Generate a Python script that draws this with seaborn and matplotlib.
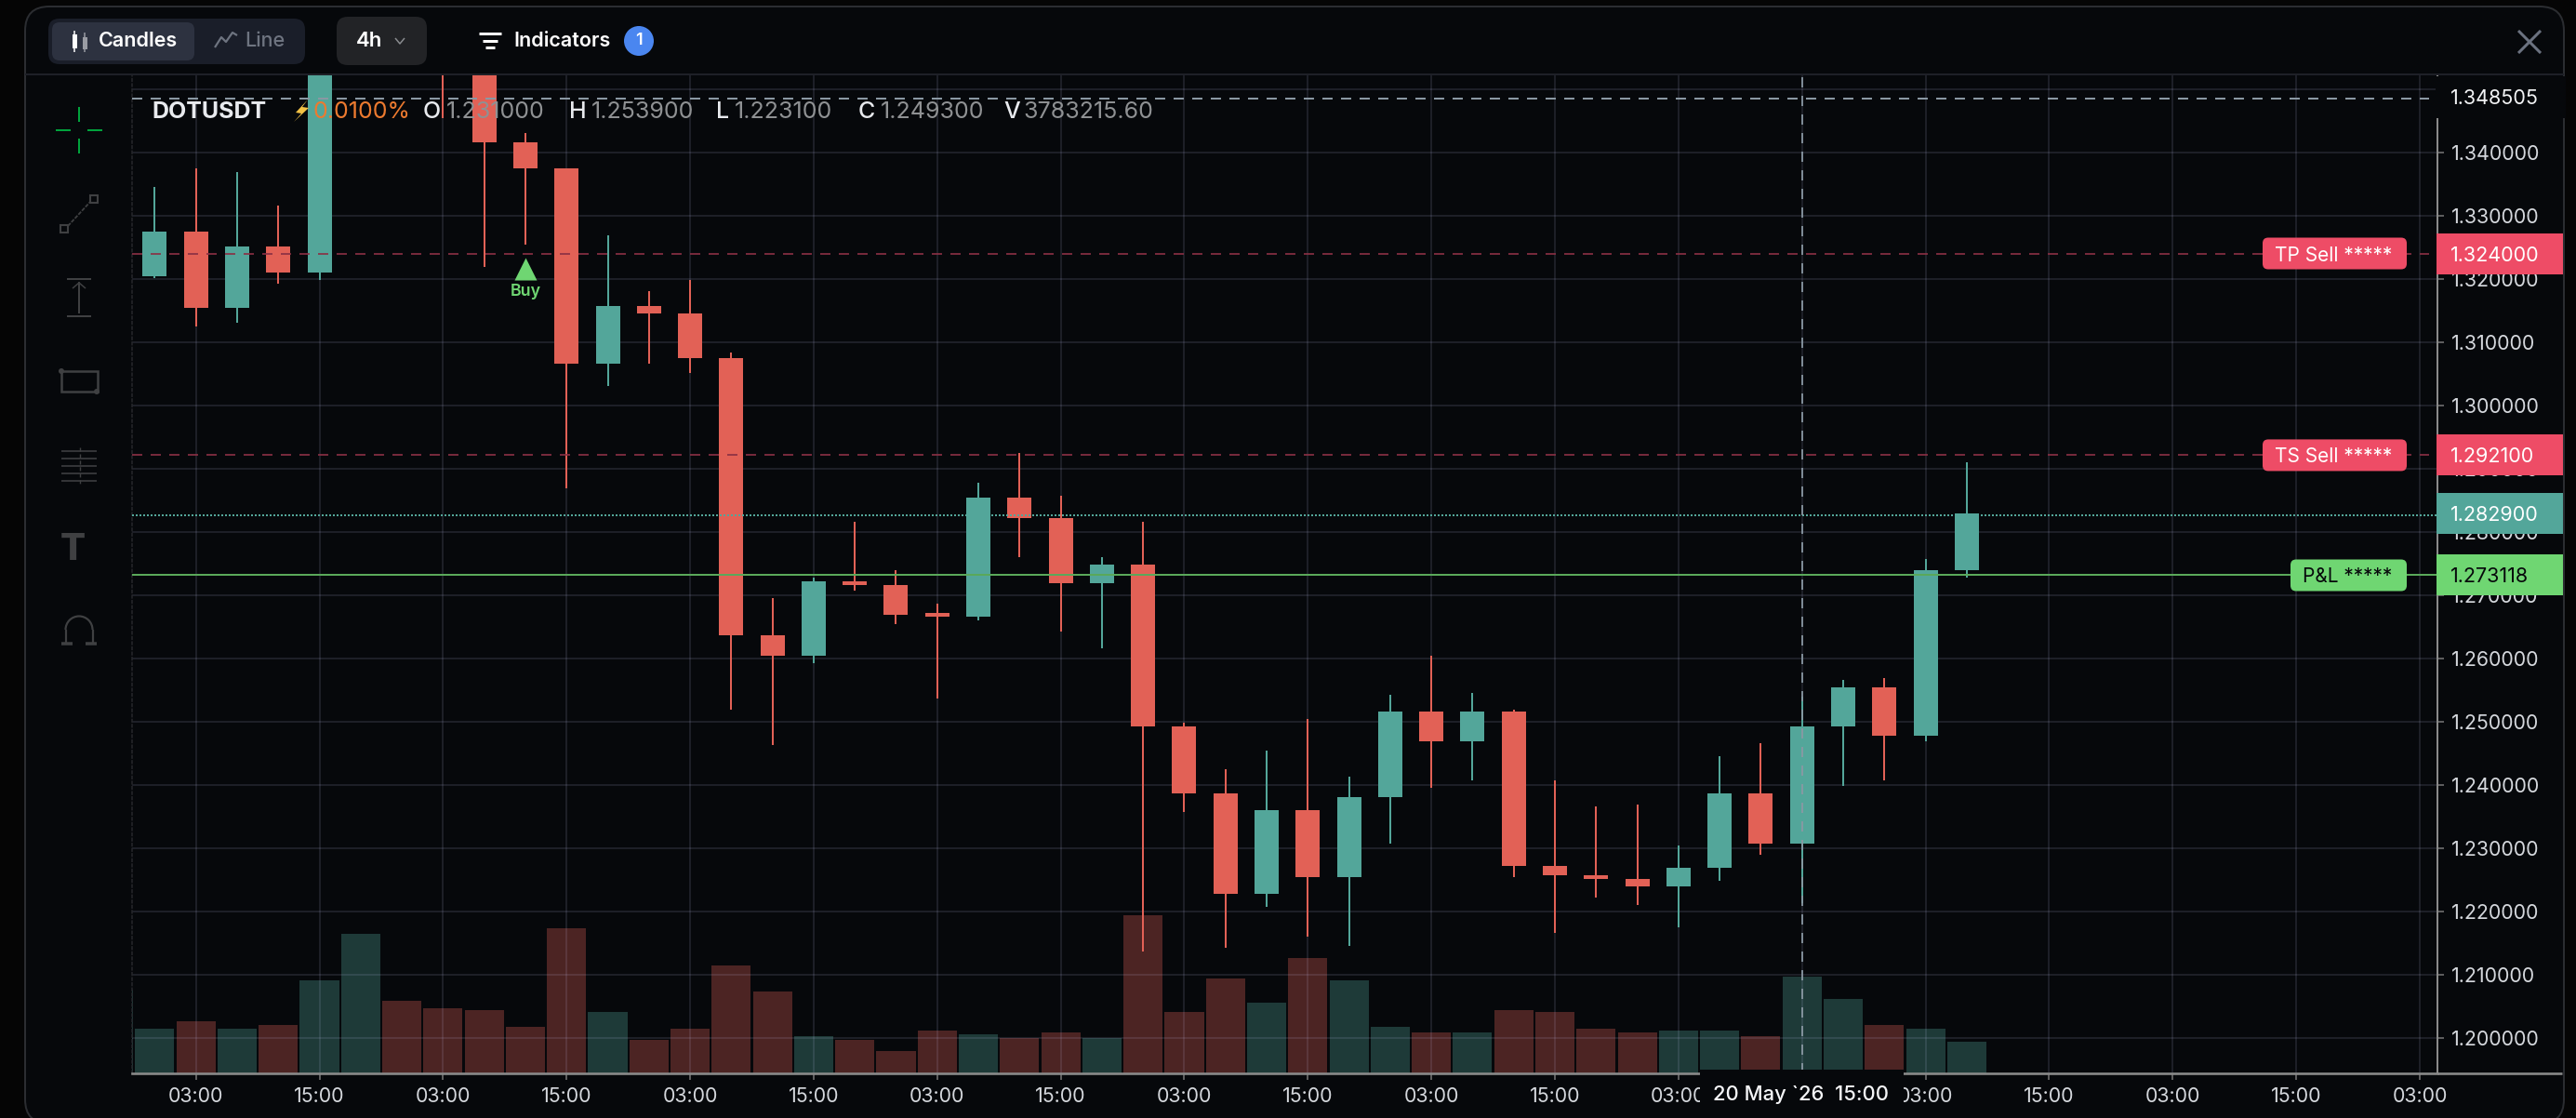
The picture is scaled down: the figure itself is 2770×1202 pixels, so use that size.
"""
DOTUSDT 4h candle chart with volume bars, order lines and the trading UI around it.
"""

import numpy as np
import pandas as pd
import matplotlib
matplotlib.use('Agg')
import matplotlib.pyplot as plt
from matplotlib.patches import Circle, FancyBboxPatch, Polygon, Rectangle, Arc
import seaborn as sns

# Candles, one per 4h bar. Bars 4-8 run above the visible range, those tops are estimates
open_prices = [1.3204, 1.3275, 1.3154, 1.3251, 1.3210, 1.3600, 1.3850, 1.3750, 1.3650, 1.3416,
               1.3375, 1.3066, 1.3157, 1.3145, 1.3074, 1.2636, 1.2604, 1.2722, 1.2716, 1.2672,
               1.2665, 1.2854, 1.2821, 1.2718, 1.2748, 1.2492, 1.2386, 1.2228, 1.2360, 1.2254,
               1.2380, 1.2516, 1.2469, 1.2516, 1.2272, 1.2257, 1.2251, 1.2239, 1.2269, 1.2386,
               1.2307, 1.2492, 1.2554, 1.2477, 1.2739]
close_prices = [1.3275, 1.3154, 1.3251, 1.3210, 1.3600, 1.3850, 1.3750, 1.3650, 1.3416, 1.3375,
                1.3066, 1.3157, 1.3145, 1.3074, 1.2636, 1.2604, 1.2722, 1.2716, 1.2669, 1.2665,
                1.2854, 1.2821, 1.2718, 1.2748, 1.2492, 1.2386, 1.2228, 1.2360, 1.2254, 1.2380,
                1.2516, 1.2469, 1.2516, 1.2272, 1.2257, 1.2251, 1.2239, 1.2269, 1.2386, 1.2307,
                1.2492, 1.2554, 1.2477, 1.2739, 1.2829]
high_prices = [1.3345, 1.3375, 1.3369, 1.3316, 1.3630, 1.3900, 1.3900, 1.3800, 1.3680, 1.3430,
               1.3375, 1.3269, 1.3180, 1.3198, 1.3083, 1.2695, 1.2727, 1.2816, 1.2739, 1.2686,
               1.2878, 1.2924, 1.2857, 1.2760, 1.2816, 1.2498, 1.2425, 1.2454, 1.2504, 1.2413,
               1.2542, 1.2604, 1.2545, 1.2519, 1.2407, 1.2366, 1.2368, 1.2304, 1.2445, 1.2466,
               1.2539, 1.2566, 1.2569, 1.2757, 1.2910]
low_prices = [1.3201, 1.3125, 1.3130, 1.3192, 1.3198, 1.3580, 1.3700, 1.3454, 1.3219, 1.3254,
              1.2869, 1.3031, 1.3066, 1.3051, 1.2519, 1.2463, 1.2592, 1.2707, 1.2654, 1.2536,
              1.2660, 1.2760, 1.2642, 1.2616, 1.2136, 1.2357, 1.2142, 1.2207, 1.2160, 1.2145,
              1.2307, 1.2395, 1.2407, 1.2254, 1.2166, 1.2221, 1.2210, 1.2175, 1.2248, 1.2289,
              1.2213, 1.2398, 1.2407, 1.2469, 1.2728]

# Volume in millions, starts one bar earlier than the candles (clipped at the left edge)
volumes = [3.27, 1.75, 2.04, 1.75, 1.89, 3.64, 5.46, 2.84, 2.55, 2.47, 1.82, 5.68, 2.40, 1.31, 1.75, 4.22,
           3.20, 1.46, 1.31, 0.87, 1.67, 1.53, 1.38, 1.60, 1.38, 6.18, 2.40, 3.71, 2.76, 4.51, 3.64,
           1.82, 1.60, 1.60, 2.47, 2.40, 1.75, 1.60, 1.67, 1.67, 1.46, 3.78, 2.91, 1.89, 1.75, 1.24]

# Time axis
time_ticks = [1, 4, 7, 10, 13, 16, 19, 22, 25, 28, 31, 34, 37, 40, 43, 46, 49, 52, 55]
time_labels = ['03:00', '15:00'] * 9 + ['03:00']
price_ticks = [1.20, 1.21, 1.22, 1.23, 1.24, 1.25, 1.26, 1.27, 1.28, 1.29,
               1.30, 1.31, 1.32, 1.33, 1.34, 1.35]

# Order lines and cursor
cursor_price = 1.348505
cursor_bar = 40
tp_price = 1.324
ts_price = 1.2921
last_price = 1.2829
last_line_price = 1.2826
pnl_price = 1.273118
buy_bar = 9
buy_price = 1.32157

legend_tokens = [('DOTUSDT', 163, '#e8eaee', 700), ('0.0100%', 336, '#ec7a2f', 400),
                 ('O', 455, '#e8eaee', 500), ('1.231000', 480, '#8f9193', 400),
                 ('H', 612, '#e8eaee', 500), ('1.253900', 636, '#8f9193', 400),
                 ('L', 770, '#e8eaee', 500), ('1.223100', 790, '#8f9193', 400),
                 ('C', 923, '#e8eaee', 500), ('1.249300', 947, '#8f9193', 400),
                 ('V', 1079, '#e8eaee', 500), ('3783215.60', 1100, '#8f9193', 400)]

PANEL = '#06080b'
TEAL = '#53a69a'
RED = '#e26156'
GREEN = '#6fd672'
PINK = '#ee4c66'
ICON = '#3f4042'

W, H = 2770, 1202
PX = 72 / 100  # points per pixel at dpi 100

sns.set_theme(style='dark', rc={'lines.scale_dashes': False, 'figure.facecolor': '#050505',
                                'patch.edgecolor': 'none', 'patch.force_edgecolor': False})
plt.rcParams['font.family'] = ['Inter', 'DejaVu Sans']

fig = plt.figure(figsize=(W / 100, H / 100), dpi=100)


def full_axes(zorder):
    a = fig.add_axes([0, 0, 1, 1], zorder=zorder)
    a.set_xlim(0, W)
    a.set_ylim(H, 0)
    a.axis('off')
    return a


def draw_line(a, xs, ys, color, lw=2, **kwargs):
    a.plot(xs, ys, color=color, lw=lw * PX, solid_capstyle='butt', **kwargs)


def round_box(a, x0, y0, x1, y1, radius, color, edge='none', lw=0):
    a.add_patch(FancyBboxPatch((x0, y0), x1 - x0, y1 - y0, boxstyle=f'round,pad=0,rounding_size={radius}',
                               facecolor=color, edgecolor=edge, linewidth=lw * PX))


bg = full_axes(0)
round_box(bg, 27, 7, 2757, 1208, 26, PANEL, edge='#2b2d31', lw=2)

# Chart axes: volume below, price on top with a see-through background
rect = [142 / W, (H - 1153.7) / H, 2479 / W, 1073.7 / H]
x_range = (-0.551, 55.43)
y_range = (1.19441, 1.35231)

ax_vol = fig.add_axes(rect, zorder=1)
vol_df = pd.DataFrame({
    'bar': np.arange(-1, len(open_prices)),
    'volume': volumes,
    'side': ['up'] + ['up' if c >= o else 'down' for o, c in zip(open_prices, close_prices)],
})
sns.barplot(data=vol_df, x='bar', y='volume', hue='side', native_scale=True, dodge=False, width=0.95,
            palette={'up': TEAL, 'down': RED}, saturation=1, alpha=0.32, linewidth=0, legend=False, ax=ax_vol)
ax_vol.set_xlim(*x_range)
ax_vol.set_ylim(0, 39.06)
ax_vol.axis('off')

ax = fig.add_axes(rect, zorder=2)
ax.patch.set_alpha(0)
ax.set_xlim(*x_range)
ax.set_ylim(*y_range)
ax.set_xticks(time_ticks)
ax.set_xticklabels(time_labels)
ax.set_yticks(price_ticks)
ax.set_yticklabels([f'{p:.6f}' for p in price_ticks])
ax.yaxis.tick_right()
ax.grid(True, color=(0.8, 0.8, 1.0), alpha=0.13, lw=1.3)
ax.set_axisbelow(True)
ax.set_xlabel('')
ax.set_ylabel('')
ax.tick_params(axis='both', length=7 * PX, width=1.5 * PX, color='#7a7a7a', pad=8 * PX,
               labelsize=15.4, labelcolor='#d4d7dc', bottom=True, right=True)
ax.spines['top'].set_visible(False)
ax.spines['right'].set(color='#8a8a8a', lw=2 * PX)
ax.spines['bottom'].set(color='#8a8a8a', lw=2.6 * PX)
ax.spines['left'].set(color='#26272b', lw=1.5 * PX, linestyle=(0, (2, 2)))

# Candles
bars = np.arange(len(open_prices))
opens = np.array(open_prices)
closes = np.array(close_prices)
colors = [TEAL if c >= o else RED for o, c in zip(opens, closes)]
ax.vlines(bars, low_prices, high_prices, colors=colors, lw=2 * PX, zorder=3)
ax.bar(bars, np.abs(closes - opens), bottom=np.minimum(opens, closes), width=0.587, color=colors,
       linewidth=0, zorder=3)

# Order lines and cursor over the candles
dash = (0, (7.9, 6.5))
ax.axhline(tp_price, xmax=0.9964, color='#8a3044', alpha=0.85, lw=2 * PX, ls=dash, zorder=3.5)
ax.axhline(ts_price, xmax=0.9964, color='#8a3044', alpha=0.85, lw=2 * PX, ls=dash, zorder=3.5)
ax.axhline(last_line_price, color=TEAL, lw=2 * PX, ls=(0, (1.44, 1.44)), zorder=3.5)
ax.axhline(pnl_price, color='#5aa85a', lw=2 * PX, zorder=3.6)
ax.axhline(cursor_price, xmax=0.9964, color='#8a98a3', lw=2 * PX, ls=dash, zorder=4)
ax.axvline(cursor_bar, color='#8a98a3', alpha=0.9, lw=2 * PX, ls=dash, zorder=4)

sns.scatterplot(x=[buy_bar], y=[buy_price], marker='^', s=300, color=GREEN, linewidth=0, zorder=5, ax=ax)
ax.annotate('Buy', (buy_bar, buy_price), xytext=(0, -24.5 * PX), textcoords='offset points', color=GREEN,
            fontsize=12.8, fontweight=600, ha='center', va='center', zorder=5)
ax.set_xlim(*x_range)
ax.set_ylim(*y_range)

top = full_axes(3)
fig.canvas.draw()


def price_y(price):
    # screen row of a price, through the chart axes
    return top.transData.inverted().transform(ax.transData.transform((0, price)))[1]


# Price axis boxes and tags
top.add_patch(Rectangle((2619, 82), 140, 45, facecolor=PANEL, edgecolor='none'))
top.text(2634.5, price_y(cursor_price), f'{cursor_price:.6f}', color='#f2f3f5', fontsize=15.5, va='center')

tags = [(tp_price, 'TP Sell *****', 2433, PINK, 'white', '1.324000'),
        (ts_price, 'TS Sell *****', 2433, PINK, 'white', '1.292100'),
        (last_price, None, None, TEAL, 'white', '1.282900'),
        (pnl_price, 'P&L *****', 2463, GREEN, '#07090b', '1.273118')]
for price, label, left, color, text_color, value in tags:
    y = price_y(price)
    top.add_patch(Rectangle((2620, y - 22), 136, 44, facecolor=color, edgecolor='none'))
    top.text(2634.5, y, value, color=text_color, fontsize=15.5, va='center_baseline')
    if label:
        round_box(top, left, y - 17, 2588, y + 17, 6, color)
        top.text(left + 13, y, label, color=text_color, fontsize=15, va='center_baseline')

# Date box on the time axis hides what lies under it
top.add_patch(Rectangle((1828, 1150), 219, 50, facecolor=PANEL, edgecolor='none'))
top.text(1937, 1177, '20 May `26  15:00', color='#f4f5f7', fontsize=15.8, fontweight=500, ha='center', va='center')
draw_line(top, [2621, 2755], [1153.7, 1153.7], '#8a8a8a', lw=2.6)

# Header
draw_line(top, [27, 2757], [80, 80], '#1e2027', lw=2)
round_box(top, 52, 20, 328, 69, 12, '#1a1e29')
round_box(top, 56, 24, 209, 65, 8, '#2d3240')
draw_line(top, [80, 80], [33, 56], 'white', lw=1.5)
top.add_patch(Rectangle((77.5, 37), 5, 15, facecolor='white', edgecolor='none'))
draw_line(top, [91, 91], [35, 56], '#9a9ca3', lw=1.5)
top.add_patch(Rectangle((88.5, 40), 5, 13, facecolor='#9a9ca3', edgecolor='none'))
top.text(106, 44, 'Candles', color='white', fontsize=15.5, fontweight=600, va='center')
draw_line(top, [231, 238, 243, 250, 255], [51, 40, 45, 35, 38], '#6e7480', lw=2.2)
top.text(263, 44, 'Line', color='#6e7480', fontsize=15.5, fontweight=500, va='center')
round_box(top, 362, 18, 459, 70, 12, '#222326')
top.text(383, 44, '4h', color='white', fontsize=16, fontweight=600, va='center')
draw_line(top, [425, 430, 435], [41, 47, 41], '#8a8c90', lw=1.5)
for y, half in [(36, 12), (44, 8), (51, 5)]:
    draw_line(top, [527 - half, 527 + half], [y, y], 'white', lw=3)
top.text(552, 44, 'Indicators', color='white', fontsize=15.5, fontweight=600, va='center')
top.add_patch(Circle((687, 44), 16, facecolor='#4a86f0', edgecolor='none'))
top.text(687, 44, '1', color='white', fontsize=13, fontweight=600, ha='center', va='center')
draw_line(top, [2708, 2732], [33, 57], '#6b7280', lw=3)
draw_line(top, [2708, 2732], [57, 33], '#6b7280', lw=3)

# Legend row
for text, x, color, weight in legend_tokens:
    top.text(x, 118, text, color=color, fontsize=18, fontweight=weight, va='center_baseline')
top.add_patch(Polygon([(331, 107), (318, 121), (324, 122), (316, 131), (332, 116), (325, 115)],
                      facecolor='#f3c245', edgecolor='none'))

# Drawing tools on the left
GREEN_TOOL = '#00a33c'
draw_line(top, [60, 76], [140, 140], GREEN_TOOL)
draw_line(top, [94, 110], [140, 140], GREEN_TOOL)
draw_line(top, [85, 85], [115, 131], GREEN_TOOL)
draw_line(top, [85, 85], [149, 165], GREEN_TOOL)

draw_line(top, [73, 97], [243, 217], ICON, lw=1.8, ls=(0, (3, 1)))
top.add_patch(Rectangle((65, 242), 8, 8, facecolor=PANEL, edgecolor=ICON, lw=1.5))
top.add_patch(Rectangle((97, 210), 8, 8, facecolor=PANEL, edgecolor=ICON, lw=1.5))

draw_line(top, [72, 98], [300, 300], ICON)
draw_line(top, [72, 98], [340, 340], ICON)
draw_line(top, [85, 85], [303, 337], ICON)
draw_line(top, [78, 85, 92], [310, 304, 310], ICON, lw=1.5)

top.add_patch(Rectangle((66, 399), 39, 22, facecolor='none', edgecolor=ICON, lw=1.8))
top.add_patch(Circle((66, 399), 3, facecolor=ICON, edgecolor='none'))
top.add_patch(Circle((104, 421), 3, facecolor=ICON, edgecolor='none'))

for y in [485, 493, 501, 509, 517]:
    draw_line(top, [66, 104], [y, y], ICON, lw=1.6)
draw_line(top, [86, 86], [481, 521], ICON, lw=1.4, ls=(0, (3, 2)))

top.text(78, 591, 'T', color=ICON, fontsize=29, fontweight=800, ha='center', va='center')

top.add_patch(Arc((85, 677), 29, 29, theta1=180, theta2=360, edgecolor=ICON, lw=2.2 * PX))
draw_line(top, [70.5, 70.5], [677, 692], ICON, lw=2.2)
draw_line(top, [99.5, 99.5], [677, 692], ICON, lw=2.2)
draw_line(top, [66, 78], [692, 692], ICON, lw=3.5)
draw_line(top, [92, 104], [692, 692], ICON, lw=3.5)

fig.savefig('out.png', dpi=100, facecolor=fig.get_facecolor())
plt.close(fig)
